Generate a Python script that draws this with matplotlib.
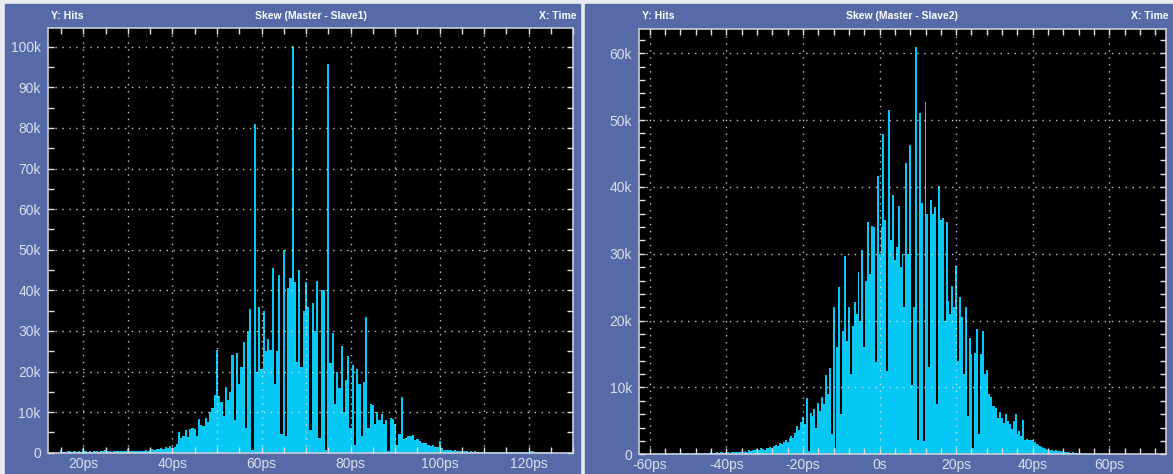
import numpy as np
import matplotlib
matplotlib.use("Agg")
import matplotlib.pyplot as plt
from matplotlib import font_manager as fm
from matplotlib.patches import Rectangle
from matplotlib.ticker import MultipleLocator, FuncFormatter

# histogram bins: 0.5 ps wide, hits in thousands
left_start = 15.0
left_step = 0.5
left_hits_k = [
    0.6, 0.2, 0.2, 0.3, 0.5, 0.2, 0.3, 0.2, 0.3, 0.2,
    1.0, 0.3, 0.2, 0.3, 0.2, 0.3, 0.3, 0.2, 0.4, 0.3,
    0.7, 0.3, 0.3, 0.2, 0.3, 0.3, 0.4, 0.3, 0.3, 0.4,
    0.8, 0.4, 0.3, 0.4, 0.4, 0.5, 0.4, 0.5, 0.6, 0.5,
    0.6, 0.8, 0.7, 0.9, 0.8, 1.2, 1.0, 1.3, 1.1, 1.6,
    1.2, 1.5, 2.2, 5.0, 3.5, 4.0, 5.5, 3.8, 5.8, 6.2,
    5.8, 4.2, 8.4, 6.8, 6.5, 8.5, 7.5, 10.0, 11.0, 14.2,
    25.3, 14.0, 12.5, 9.0, 16.3, 13.0, 15.0, 24.0, 8.0, 24.5,
    17.0, 21.0, 27.3, 6.0, 30.0, 35.3, 0.7, 81.0, 20.0, 36.0,
    20.6, 35.0, 25.0, 28.0, 25.3, 45.4, 17.0, 25.0, 43.8, 4.5,
    49.9, 4.0, 40.5, 43.0, 100.2, 42.0, 22.4, 45.0, 21.0, 35.0,
    42.0, 36.0, 5.5, 37.0, 30.0, 42.2, 3.5, 40.0, 40.0, 0.7,
    95.7, 22.0, 29.4, 12.0, 20.0, 16.0, 26.3, 10.0, 18.0, 23.8,
    6.0, 21.5, 2.0, 20.5, 17.0, 4.0, 17.4, 33.5, 6.0, 12.0,
    11.7, 7.0, 10.0, 8.0, 9.6, 7.0, 8.0, 0.5, 8.5, 8.4,
    7.0, 2.0, 4.6, 13.8, 3.3, 3.6, 4.0, 4.0, 4.4, 3.2,
    3.3, 2.8, 2.5, 2.5, 2.4, 1.8, 1.6, 1.8, 1.5, 1.4,
    3.0, 1.2, 0.6, 0.7, 0.6, 0.6, 0.5, 0.6, 0.5, 0.4,
    0.3, 0.3, 0.3, 0.2, 0.3, 0.2, 0.3, 0.2, 0.2, 0.2,
    0.2, 0.1, 0.2, 0.1, 0.2, 0.1, 0.1, 0.2, 0.1, 0.1,
    0.1, 0.1, 0.1, 0.1, 0.1, 0.1, 0.1, 0.1, 0.1, 0.1,
    0.2, 0.3, 0.3, 0.1, 0.1, 0.1, 0.1, 0.1, 0.1, 0.1,
]

right_start = -60.0
right_step = 0.5
right_hits_k = [
    0.1, 0.1, 0.2, 0.1, 0.1, 0.2, 0.1, 0.1, 0.1, 0.2,
    0.1, 0.1, 0.2, 0.1, 0.2, 0.1, 0.1, 0.2, 0.1, 0.2,
    0.2, 0.1, 0.2, 0.2, 0.1, 0.2, 0.2, 0.2, 0.1, 0.2,
    0.2, 0.2, 0.3, 0.2, 0.2, 0.3, 0.2, 0.3, 0.3, 0.2,
    0.3, 0.3, 0.2, 0.3, 0.4, 0.3, 0.4, 0.3, 0.5, 0.4,
    0.5, 0.4, 0.6, 0.5, 0.7, 0.6, 0.8, 0.7, 0.9, 0.8,
    0.7, 1.0, 0.9, 1.1, 1.0, 1.2, 1.4, 1.3, 1.7, 1.5,
    1.8, 2.1, 1.9, 2.4, 2.7, 2.5, 3.2, 4.2, 3.6, 4.8,
    5.6, 4.6, 8.4, 0.5, 6.2, 5.8, 6.8, 4.0, 7.6, 6.5,
    8.6, 7.5, 11.9, 9.0, 12.9, 3.0, 22.0, 1.0, 16.0, 25.0,
    6.0, 18.4, 29.7, 17.0, 22.0, 12.0, 19.2, 22.8, 21.0, 27.3,
    20.0, 30.6, 16.0, 26.0, 34.7, 27.0, 34.2, 34.0, 13.8, 41.6,
    30.0, 34.0, 47.9, 35.0, 12.5, 51.5, 32.0, 38.8, 29.0, 31.0,
    37.1, 28.0, 30.0, 22.0, 43.6, 30.0, 46.2, 10.4, 22.0, 60.9,
    2.1, 51.1, 37.6, 2.0, 52.7, 36.0, 13.0, 38.0, 36.0, 37.0,
    7.5, 40.2, 35.0, 35.3, 20.0, 34.8, 23.0, 21.0, 25.2, 22.0,
    28.2, 14.0, 23.5, 20.6, 12.0, 22.0, 5.8, 17.4, 15.0, 1.0,
    15.2, 18.7, 3.0, 15.0, 18.4, 12.0, 12.6, 9.0, 8.6, 7.3,
    7.3, 6.9, 5.5, 6.3, 5.4, 4.7, 6.0, 5.0, 4.5, 3.8,
    5.0, 6.1, 3.0, 3.5, 2.8, 5.1, 2.2, 2.3, 2.2, 2.1,
    2.2, 1.9, 1.6, 1.4, 1.2, 1.1, 0.9, 0.8, 0.7, 0.6,
    0.6, 0.5, 0.6, 0.5, 0.5, 0.4, 0.5, 0.3, 0.3, 0.3,
    0.2, 0.3, 0.2, 0.2, 0.2, 0.2, 0.1, 0.2, 0.2, 0.1,
    0.2, 0.1, 0.1, 0.2, 0.1, 0.1, 0.1, 0.1, 0.2, 0.1,
    0.1, 0.1, 0.1, 0.1, 0.1, 0.1, 0.1, 0.1, 0.1, 0.1,
    0.1, 0.1, 0.1, 0.1, 0.1, 0.1, 0.1, 0.1, 0.1, 0.1,
    0.1, 0.1, 0.1, 0.1, 0.1, 0.1, 0.1, 0.1, 0.1, 0.1,
]

titles = ["Skew (Master - Slave1)", "Skew (Master - Slave2)"]

avail = {f.name for f in fm.fontManager.ttflist}
tick_font = "Liberation Sans" if "Liberation Sans" in avail else "DejaVu Sans"
head_font = tick_font

W, H = 1173, 474
panel_bg = "#566aa8"
bar_color = "#06c8f4"
label_color = "#d9dee9"

fig = plt.figure(figsize=(W / 100, H / 100), dpi=100)
fig.patch.set_facecolor("#e8ebf0")

# blue panel backgrounds, behind the axes
for x0, x1 in [(5, 580), (585, 1173)]:
    fig.add_artist(Rectangle((x0 / W, 0), (x1 - x0) / W, (H - 4) / H,
                             transform=fig.transFigure, color=panel_bg, zorder=-10))


def make_axes(l, t, r, b):
    ax = fig.add_axes([l / W, (H - b) / H, (r - l) / W, (b - t) / H])
    ax.set_zorder(1)
    ax.set_facecolor("black")
    for s in ax.spines.values():
        s.set_color("#c9cdd8")
        s.set_linewidth(1.2)
    return ax


ax1 = make_axes(47.7, 27.7, 573.3, 452.7)
ax2 = make_axes(639, 28.5, 1165.7, 454.3)

x1 = left_start + np.arange(len(left_hits_k)) * left_step
x2 = right_start + np.arange(len(right_hits_k)) * right_step
ax1.bar(x1, np.array(left_hits_k) * 1000, width=left_step, color=bar_color, linewidth=0)
ax2.bar(x2, np.array(right_hits_k) * 1000, width=right_step, color=bar_color, linewidth=0)

ax1.set_xlim(12, 130)
ax1.set_ylim(0, 104700)
ax2.set_xlim(-62.8, 74.7)
ax2.set_ylim(0, 63700)

ax1.xaxis.set_major_locator(MultipleLocator(10))
ax1.xaxis.set_minor_locator(MultipleLocator(5))
ax1.yaxis.set_major_locator(MultipleLocator(10000))
ax1.yaxis.set_minor_locator(MultipleLocator(5000))
ax2.xaxis.set_major_locator(MultipleLocator(20))
ax2.xaxis.set_minor_locator(MultipleLocator(4))
ax2.yaxis.set_major_locator(MultipleLocator(10000))
ax2.yaxis.set_minor_locator(MultipleLocator(2000))


def ps_left(v, p):
    n = int(round(v))
    return f"{n}ps" if n % 20 == 0 else ""


def ps_right(v, p):
    n = int(round(v))
    return "0s" if n == 0 else f"{n}ps"


def kilo(v, p):
    n = int(round(v / 1000))
    return "0" if n == 0 else f"{n}k"


ax1.xaxis.set_major_formatter(FuncFormatter(ps_left))
ax2.xaxis.set_major_formatter(FuncFormatter(ps_right))
for ax in (ax1, ax2):
    ax.yaxis.set_major_formatter(FuncFormatter(kilo))
    ax.set_axisbelow(False)
    ax.grid(True, which="major", color="#e6e6e6", linestyle=(0, (1, 4)), linewidth=1.0, alpha=0.85)
    ax.tick_params(which="both", direction="in", top=True, right=True, color="#e0e0e0",
                   length=4, width=1, labelcolor=label_color, labelsize=10)
    ax.tick_params(axis="x", pad=3)
    ax.tick_params(axis="y", pad=5)
    for lab in ax.get_xticklabels() + ax.get_yticklabels():
        lab.set_fontfamily(tick_font)

# header texts above each plot
for (l, r), title in zip([(47.7, 573.3), (639, 1165.7)], titles):
    y = 1 - 16 / H
    kw = dict(color="white", fontsize=7.5, fontweight="bold", family=head_font, va="center")
    fig.text((l + 3) / W, y, "Y: Hits", ha="left", **kw)
    fig.text((l + r) / 2 / W, y, title, ha="center", **kw)
    fig.text((r + 3) / W, y, "X: Time", ha="right", **kw)

fig.savefig("out.png", dpi=100, facecolor=fig.get_facecolor())
